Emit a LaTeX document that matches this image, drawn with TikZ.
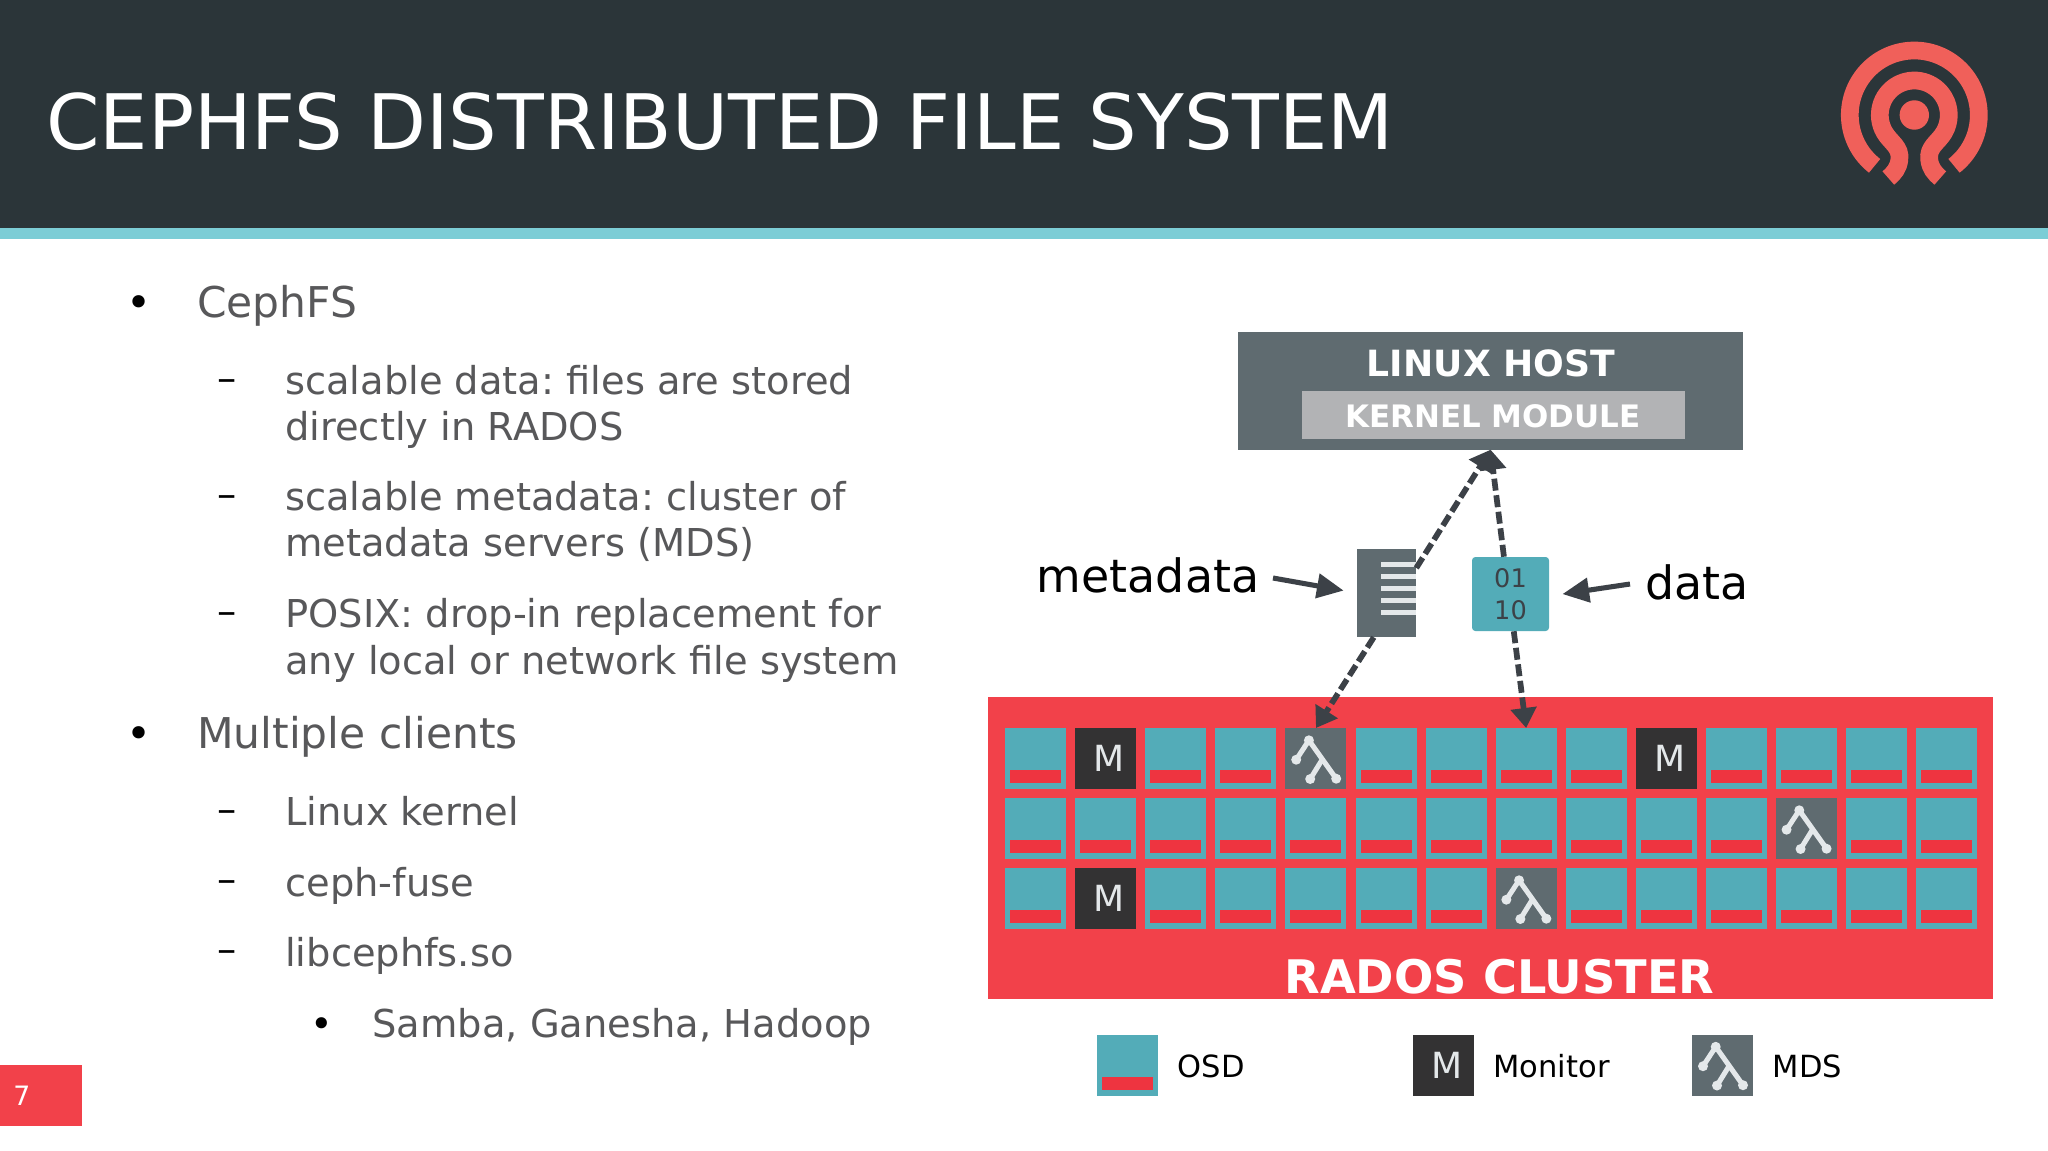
\documentclass[tikz,border=0pt]{standalone}
\usepackage{fontspec}
\setmainfont{DejaVu Sans}
\usetikzlibrary{positioning,arrows.meta}
\frenchspacing

\definecolor{headdark}{HTML}{2B3539}
\definecolor{headband}{HTML}{7CCDD6}
\definecolor{logored}{HTML}{F0605A}
\definecolor{radosred}{HTML}{F2414A}
\definecolor{barred}{HTML}{EE3440}
\definecolor{osdteal}{HTML}{53ACB8}
\definecolor{mondark}{HTML}{333233}
\definecolor{mdsgray}{HTML}{5F6B70}
\definecolor{kernelgray}{HTML}{B2B3B5}
\definecolor{iconwhite}{HTML}{E4E8EA}
\definecolor{bodygray}{HTML}{58585A}
\definecolor{arrowdark}{HTML}{3C4147}

\tikzset{
    level one/.style={anchor=base west,inner sep=0pt,text=bodygray,font=\fontsize{31.8}{38}\selectfont},
    level two/.style={anchor=base west,inner sep=0pt,text=bodygray,font=\fontsize{28.8}{34}\selectfont},
    mark one/.style={anchor=base west,inner sep=0pt,text=black,font=\fontsize{31.8}{38}\selectfont},
    mark two/.style={anchor=base west,inner sep=0pt,text=black,font=\fontsize{28.8}{34}\selectfont},
    osdcell/.style={anchor=north west,fill=osdteal,inner sep=0pt,minimum size=45.75pt},
    osdbar/.style={anchor=south,fill=barred,inner sep=0pt,minimum width=38.25pt,minimum height=9.5pt},
    moncell/.style={anchor=north west,fill=mondark,inner sep=0pt,minimum size=45.75pt,text=iconwhite,font=\fontsize{27}{27}\selectfont},
    mdscell/.style={anchor=north west,fill=mdsgray,inner sep=0pt,minimum size=45.75pt},
    treeline/.style={draw=iconwhite,line width=3.8pt,line cap=round,line join=round},
    legendtext/.style={anchor=base west,inner sep=0pt,font=\fontsize{22.9}{23}\selectfont},
    bigtext/.style={anchor=base west,inner sep=0pt,font=\fontsize{34.4}{34}\selectfont},
    flowdash/.style={draw=arrowdark,line width=4.3pt,dash pattern=on 9pt off 3.5pt,-{Triangle[length=15pt,width=19pt]}},
    pointer/.style={draw=arrowdark,line width=3.8pt,shorten >=10pt,-{Triangle[length=20pt,width=18pt]}},
    logoline/.style={draw=logored,line width=13.3pt},
}

\newcommand{\osdbox}[2]{
    \node[osdcell] (#1) at #2 {};
    \node[osdbar,above=4.7pt of #1.south] (#1-bar) {};
}
\newcommand{\monbox}[2]{
    \node[moncell] (#1) at #2 {\hspace*{5pt}M};
}
\newcommand{\mdsbox}[2]{
    \node[mdscell] (#1) at #2 {};
    \begin{scope}[shift={(#1.north west)}]
        \draw[treeline] (11,31.7) -- (23.7,12.3) -- (51,50.7);
        \draw[treeline] (36.9,31.7) -- (25,51);
        \foreach \dotx/\doty in {23.7/12.3,11/31.7,25/51,51/50.7}
            \fill[iconwhite] (\dotx,\doty) circle (5);
    \end{scope}
}

\begin{document}
\begin{tikzpicture}[x=0.75pt,y=0.75pt,yscale=-1,xscale=1]
    \path[use as bounding box,fill=white] (0,0) rectangle (2048,1150);

    % Header
    \fill[headdark] (0,0) rectangle (2048,228);
    \fill[headband] (0,228) rectangle (2048,239);
    \node[anchor=base west,inner sep=0pt,text=white,font=\fontsize{57.4}{70}\selectfont] (title) at (46,149) {CEPHFS DISTRIBUTED FILE SYSTEM};

    % Logo
    \begin{scope}[shift={(1914.3,115)}]
        \fill[logored] (0,0) circle (14.7);
        \draw[logoline] (128:64.5) arc[start angle=128,end angle=412,radius=64.5];
        \draw[logoline] (-26,63) .. controls (-20,58) and (-16,53) .. (-15,45) .. controls (-13,32) and (-24,27.5) .. (150:34.5)
            arc[start angle=150,end angle=390,radius=34.5]
            .. controls (24,27.5) and (13,32) .. (15,45) .. controls (16,53) and (20,58) .. (26,63);
    \end{scope}

    % Text Node
    \node[mark one] (bulletA) at (126,317.4) {•};
    \node[level one] (cephfs) at (197,317) {CephFS};
    \node[mark two] (dashA) at (217,391.5) {–};
    \node[level two] (scaledata) at (285,394.5) {scalable data: files are stored};
    \node[level two] (scaledataB) at (285,440.3) {directly in RADOS};
    \node[mark two] (dashB) at (217,507.5) {–};
    \node[level two] (scalemeta) at (285,510.7) {scalable metadata: cluster of};
    \node[level two] (scalemetaB) at (285,556.3) {metadata servers (MDS)};
    \node[mark two] (dashC) at (217,624.5) {–};
    \node[level two] (posix) at (285,627.5) {POSIX: drop-in replacement for};
    \node[level two] (posixB) at (285,674) {any local or network file system};
    \node[mark one] (bulletB) at (126,748.4) {•};
    \node[level one] (clients) at (197,748.4) {Multiple clients};
    \node[mark two] (dashD) at (217,822.5) {–};
    \node[level two] (kernel) at (285,825.4) {Linux kernel};
    \node[mark two] (dashE) at (217,892.5) {–};
    \node[level two] (fuse) at (285,896) {ceph-fuse};
    \node[mark two] (dashF) at (217,962.5) {–};
    \node[level two] (libceph) at (285,966.5) {libcephfs.so};
    \node[mark two] (bulletC) at (310,1037) {•};
    \node[level two] (samba) at (372.3,1037) {Samba, Ganesha, Hadoop};

    % Page number
    \fill[radosred] (0,1065) rectangle (82,1126);
    \node[anchor=base west,inner sep=0pt,text=white,font=\fontsize{20}{20}\selectfont] (pagenum) at (13,1105) {7};

    % Linux host
    \fill[mdsgray] (1238,332) rectangle (1743.4,449.7);
    \coordinate (hostin) at (1490.6,449.7);
    \node[inner sep=0pt,text=white,font=\fontsize{27.1}{28}\bfseries\selectfont] (host) at (1491,363) {LINUX HOST};
    \fill[kernelgray] (1302,390.7) rectangle (1684.7,439.3);
    \node[inner sep=0pt,text=white,font=\fontsize{23.2}{23}\bfseries\selectfont] (module) at (1493,416) {KERNEL MODULE};

    % Metadata file
    \node[fill=mdsgray,inner sep=0pt,minimum width=44.25pt,minimum height=66.2pt] (meta) at (1386.5,592.9) {};
    \foreach \liney in {562,574,586,598,610}
        \fill[iconwhite] (1380.6,\liney) rectangle (1416,\liney+5);

    % Data block
    \node[fill=osdteal,rounded corners=2.5pt,inner sep=0pt,minimum width=57.75pt,minimum height=55.5pt,align=center,text=arrowdark,font=\fontsize{19.2}{23.8}\selectfont] (block) at (1510.5,594) {01\\10};

    % Text Node
    \node[bigtext] (metalabel) at (1036.7,592.5) {metadata};
    \node[bigtext] (datalabel) at (1645,599) {data};
    \coordinate (metafrom) at (1273,578);
    \coordinate (datafrom) at (1630,584);
    \draw[pointer] (metafrom) -- (meta.west);
    \draw[pointer] (datafrom) -- (block.-3);

    % RADOS cluster
    \fill[radosred] (988.4,697.3) rectangle (1993,999);
    \node[anchor=base,inner sep=0pt,text=white,font=\fontsize{34.7}{35}\bfseries\selectfont] (rados) at (1499.5,993) {RADOS CLUSTER};

    \foreach \col in {0,2,3,5,6,7,8,10,11,12,13}
        {\osdbox{c-0-\col}{({1005+\col*70.05},728)}}
    \monbox{c-0-1}{({1005+1*70.05},728)}
    \mdsbox{c-0-4}{({1005+4*70.05},728)}
    \monbox{c-0-9}{({1005+9*70.05},728)}
    \foreach \col in {0,...,10,12,13}
        {\osdbox{c-1-\col}{({1005+\col*70.05},798)}}
    \mdsbox{c-1-11}{({1005+11*70.05},798)}
    \foreach \col in {0,2,3,4,5,6,8,9,10,11,12,13}
        {\osdbox{c-2-\col}{({1005+\col*70.05},868)}}
    \monbox{c-2-1}{({1005+1*70.05},868)}
    \mdsbox{c-2-7}{({1005+7*70.05},868)}

    % Connectors
    \draw[flowdash] (meta.40) -- (hostin);
    \draw[flowdash] (block.100) -- (hostin);
    \draw[flowdash] (meta.-106) -- (c-0-4.north);
    \draw[flowdash] (block.-85) -- (c-0-7.north);

    % Legend
    \osdbox{legosd}{(1097,1034.5)}
    \node[legendtext] (osdtext) at (1177.5,1077.5) {OSD};
    \monbox{legmon}{(1413,1034.5)}
    \node[legendtext] (montext) at (1493.2,1077.5) {Monitor};
    \mdsbox{legmds}{(1692,1034.5)}
    \node[legendtext] (mdstext) at (1772.5,1077.5) {MDS};
\end{tikzpicture}
\end{document}
